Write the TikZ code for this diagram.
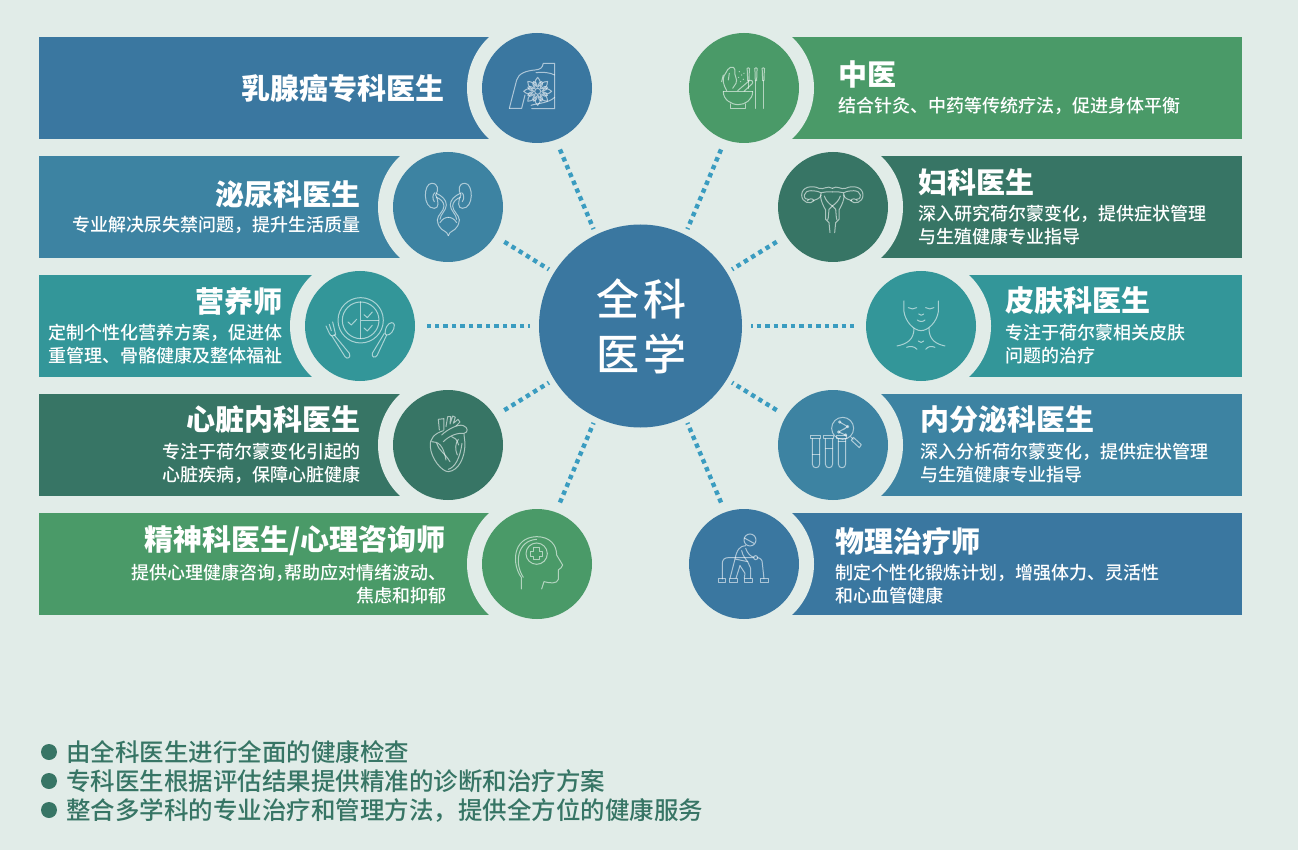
\documentclass[tikz,border=0pt]{standalone}
\usepackage{fontspec}
\setmainfont{Noto Sans CJK SC}
\newfontfamily\cjkmed{Noto Sans CJK SC Medium}
\newcommand{\fs}[2]{\fontsize{#1}{#2}\selectfont}
\definecolor{bgc}{HTML}{E1ECE8}
\definecolor{cblue}{HTML}{3A77A0}
\definecolor{cteal}{HTML}{3D83A2}
\definecolor{caqua}{HTML}{339699}
\definecolor{cdark}{HTML}{377565}
\definecolor{cgreen}{HTML}{4A9A68}
\definecolor{cspoke}{HTML}{3A9CC0}
\tikzset{
  x=1pt,y=-1pt,
  disc/.style={circle,inner sep=0pt,minimum size=110pt,draw=none},
  spoke/.style={draw=cspoke,line width=4.4pt,dash pattern=on 4.4pt off 4.1pt,dash phase=3pt},
  ttl/.style={text=white,inner sep=0pt,font=\fs{29}{34}\bfseries},
  subt/.style={text=white,inner sep=0pt,font=\cjkmed\fs{18}{23}},
  nb/.style={text=cdark,inner sep=0pt,anchor=west,font=\cjkmed\fs{24.5}{29}},
  dotb/.style={circle,fill=cdark,inner sep=0pt,minimum size=16pt},
  icon/.style={draw=white,draw opacity=.58,line width=1pt,line cap=round,line join=round,fill=none},
  zoomed/.style={shift={(#1)},x=.3333pt,y=-.3333pt},
}
% #1 name, #2 x-left, #3 x-right, #4 y-top, #5 cx, #6 cy, #7 colour
\newcommand{\barbox}[7]{%
  \path[fill=#7] (#2,#4) rectangle (#3,#4+102);
  \begin{scope}
    \clip (#2,#4) rectangle (#3,#4+102);
    \fill[bgc] (#5,#6) circle[radius=70pt];
  \end{scope}
}
\begin{document}
\begin{tikzpicture}
\useasboundingbox (0,0) rectangle (1298,850);
\fill[bgc] (0,0) rectangle (1298,850);
\barbox{b1}{39}{537}{37}{537}{88}{cblue}
\barbox{b2}{39}{448}{156}{448}{207}{cteal}
\barbox{b3}{39}{360}{275}{360}{326}{caqua}
\barbox{b4}{39}{448}{394}{448}{445}{cdark}
\barbox{b5}{39}{537}{513}{537}{564}{cgreen}
\barbox{b6}{744}{1242}{37}{744}{88}{cgreen}
\barbox{b7}{833}{1242}{156}{833}{207}{cdark}
\barbox{b8}{921}{1242}{275}{921}{326}{caqua}
\barbox{b9}{833}{1242}{394}{833}{445}{cteal}
\barbox{b10}{744}{1242}{513}{744}{564}{cblue}

\node[disc,fill=cblue] (L1) at (537,88) {};
\node[disc,fill=cteal] (L2) at (448,207) {};
\node[disc,fill=caqua] (L3) at (360,326) {};
\node[disc,fill=cdark] (L4) at (448,445) {};
\node[disc,fill=cgreen] (L5) at (537,564) {};
\node[disc,fill=cgreen] (R1) at (744,88) {};
\node[disc,fill=cdark] (R2) at (833,207) {};
\node[disc,fill=caqua] (R3) at (921,326) {};
\node[disc,fill=cteal] (R4) at (833,445) {};
\node[disc,fill=cblue] (R5) at (744,564) {};
\node[circle,inner sep=0pt,minimum size=203pt,fill=cblue,text=white,align=center,font=\cjkmed\fs{43}{55}] (hub) at (640.5,326) {\raisebox{1pt}{\kern1pt全\kern4pt科}\\\raisebox{1pt}{\kern1pt医\kern4pt学}};

\draw[spoke,shorten <=6pt,shorten >=9pt] (hub.116) -- (L1.-70);
\draw[spoke,shorten <=6pt,shorten >=9pt] (hub.64) -- (R1.-110);
\draw[spoke,shorten <=6pt,shorten >=9pt] (hub.244) -- (L5.70);
\draw[spoke,shorten <=6pt,shorten >=9pt] (hub.-64) -- (R5.110);
\foreach \t in {L2,L4,R2,R4}
  \draw[spoke,shorten <=6pt,shorten >=9pt] (hub) -- (\t);
\draw[spoke,shorten <=9pt,shorten >=12pt] (hub) -- (L3);
\draw[spoke,shorten <=9pt,shorten >=12pt] (hub) -- (R3);

% left texts
\node[ttl,anchor=east] (t1) at (445,88) {乳腺癌专科医生};
\node[ttl,anchor=east] (t2) at (361,194) {泌尿科医生};
\node[subt,anchor=east] (s2) at (361,225) {专业解决尿失禁问题，提升生活质量};
\node[ttl,anchor=east] (t3) at (283,301) {营养师};
\node[subt,anchor=east,align=right] (s3) at (283,344.5) {定制个性化营养方案，促进体\\重管理、骨骼健康及整体福祉};
\node[ttl,anchor=east] (t4) at (361,420) {心脏内科医生};
\node[subt,anchor=east,align=right] (s4) at (361,463.5) {专注于荷尔蒙变化引起的\\心脏疾病，保障心脏健康};
\node[ttl,anchor=east] (t5) at (446,541) {精神科医生/心理咨询师};
\node[subt,anchor=east,align=right] (s5) at (447,584.5) {提供心理健康咨询，\kern-9pt帮助应对情绪波动、\\焦虑和抑郁};
% right texts
\node[ttl,anchor=west] (t6) at (838,74) {中医};
\node[subt,anchor=west] (s6) at (838,105.5) {结合针灸、中药等传统疗法，促进身体平衡};
\node[ttl,anchor=west] (t7) at (918,182) {妇科医生};
\node[subt,anchor=west,align=left] (s7) at (918,225.5) {深入研究荷尔蒙变化，提供症状管理\\与生殖健康专业指导};
\node[ttl,anchor=west] (t8) at (1005,301) {皮肤科医生};
\node[subt,anchor=west,align=left] (s8) at (1005,344.5) {专注于荷尔蒙相关皮肤\\问题的治疗};
\node[ttl,anchor=west] (t9) at (920,420) {内分泌科医生};
\node[subt,anchor=west,align=left] (s9) at (920,463.5) {深入分析荷尔蒙变化，提供症状管理\\与生殖健康专业指导};
\node[ttl,anchor=west] (t10) at (835,541) {物理治疗师};
\node[subt,anchor=west,align=left] (s10) at (835,584.5) {制定个性化锻炼计划，增强体力、灵活性\\和心血管健康};

% bottom list
\node[dotb] (d1) at (49,752) {};
\node[dotb] (d2) at (49,781) {};
\node[dotb] (d3) at (49,810) {};
\node[nb] (n1) at (66,752) {由全科医生进行全面的健康检查};
\node[nb] (n2) at (66,781) {专科医生根据评估结果提供精准的诊断和治疗方案};
\node[nb] (n3) at (66,810) {整合多学科的专业治疗和管理方法，提供全方位的健康服务};

% ---- icons (coordinates are 3x crop coordinates) ----
% breast
\begin{scope}[zoomed={470,20}]
\draw[icon] (118,265) -- (140,180) .. controls (145,160) and (170,152) .. (195,150) .. controls (212,148) and (216,145) .. (220,130) -- (254,130) -- (254,266) -- (185,266);
\draw[icon] (118,265) -- (155,265) -- (165,225);
\draw[icon] (198,158) .. controls (220,155) and (240,158) .. (254,165);
\draw[icon] (183,256) .. controls (200,250) and (235,250) .. (254,232);
\foreach \a in {0,45,...,315}{
  \begin{scope}[shift={(203,214)},rotate=\a]
  \draw[icon] (12,0) .. controls (20,13) and (32,9) .. (42,0) .. controls (32,-9) and (20,-13) .. (12,0);
  \begin{scope}[rotate=22.5]
  \draw[icon] (16,-5) .. controls (24,-8) and (28,-4) .. (32,0) .. controls (28,4) and (24,8) .. (16,5);
  \end{scope}
  \end{scope}
}
\draw[icon] (203,214) circle[radius=9];
\end{scope}
% mortar + needles
\begin{scope}[zoomed={470,20}]
\draw[icon] (760,215) -- (848,215);
\draw[icon] (760,215) .. controls (760,240) and (785,254) .. (805,254) .. controls (825,254) and (848,240) .. (848,215);
\draw[icon] (783,252) -- (783,265) -- (828,265) -- (828,252);
\draw[icon] (803,212) -- (838,182) .. controls (845,178) and (852,186) .. (846,192) -- (822,214);
\draw[icon] (770,212) .. controls (762,195) and (752,180) .. (768,158) .. controls (772,145) and (790,132) .. (795,150) .. controls (790,165) and (805,178) .. (798,190) -- (788,205);
\draw[icon] (760,165) -- (755,185) (778,160) -- (775,180);
\foreach \p in {(808,155),(815,165),(806,172),(820,178),(812,185),(822,160)} \fill[white,fill opacity=.58] \p circle[radius=2];
\foreach \nx/\ny in {835/205,858/265,880/265}{
  \draw[icon] (\nx-3,153) .. controls (\nx-9,140) and (\nx+9,140) .. (\nx+3,153) -- (\nx+2,182) -- (\nx-2,182) -- cycle;
  \draw[icon] (\nx,182) -- (\nx,\ny);
}
\end{scope}
% kidneys
\begin{scope}[zoomed={290,140}]
\foreach \m in {1,-1}{
\begin{scope}[xshift=158.33pt,x=\m*.3333pt]
\draw[icon] (-38,165) .. controls (-28,150) and (-30,130) .. (-50,130) .. controls (-75,130) and (-78,205) .. (-42,205) .. controls (-28,205) and (-28,185) .. (-38,165);
\draw[icon] (-40,158) .. controls (-48,162) and (-48,178) .. (-42,185);
\draw[icon] (-36,160) .. controls (-18,168) and (-6,180) .. (-6,195) .. controls (-6,212) and (-24,222) .. (-25,238);
\draw[icon] (-36,172) .. controls (-24,176) and (-13,186) .. (-13,198) .. controls (-13,214) and (-33,225) .. (-33,240);
\draw[icon] (-33,240) .. controls (-30,270) and (-10,272) .. (-5,278) -- (0,287);
\draw[icon] (-25,248) .. controls (-18,236) and (-8,232) .. (0,232);
\end{scope}}
\end{scope}
% plate
\begin{scope}[zoomed={290,140}]
\draw[icon] (212,541) circle[radius=68];
\draw[icon] (212,541) circle[radius=55];
\draw[icon] (212,486) -- (212,596) (212,541) -- (266,541);
\draw[icon] (174,546) -- (184,555) -- (200,538);
\draw[icon] (222,524) -- (232,533) -- (247,516);
\draw[icon] (222,564) -- (232,573) -- (247,556);
\draw[icon] (108,558) -- (118,580) .. controls (122,590) and (132,590) .. (137,584) -- (128,546);
\draw[icon] (118,553) -- (124,572);
\draw[icon] (132,584) -- (178,640) .. controls (184,652) and (172,660) .. (165,650) -- (125,587);
\draw[icon] (313,555) .. controls (312,545) and (298,545) .. (290,560) .. controls (284,572) and (284,585) .. (290,585) .. controls (300,588) and (314,570) .. (313,555) -- cycle;
\draw[icon] (290,585) -- (262,645) .. controls (256,656) and (244,652) .. (247,640) -- (283,580);
\end{scope}
% uterus
\begin{scope}[zoomed={760,140}]
\foreach \m in {1,-1}{
\begin{scope}[xshift=72.33pt,x=\m*.3333pt]
\draw[icon] (0,145) .. controls (-15,135) and (-25,150) .. (-40,145) .. controls (-60,135) and (-92,140) .. (-92,165) .. controls (-92,188) and (-65,195) .. (-55,182) .. controls (-60,172) and (-72,178) .. (-75,182);
\draw[icon] (-35,158) .. controls (-50,150) and (-82,148) .. (-84,165) .. controls (-85,175) and (-78,180) .. (-72,178);
\draw[icon] (0,156) .. controls (-15,156) and (-25,155) .. (-33,158) .. controls (-40,165) and (-32,190) .. (-20,210) -- (-20,238) -- (-10,248) -- (-7,278);
\draw[icon] (-58,182) .. controls (-48,178) and (-40,178) .. (-33,165);
\draw[icon] (0,198) .. controls (-12,190) and (-20,180) .. (-24,168);
\draw[icon] (0,198) -- (-10,208) -- (-12,232) -- (-14,240);
\end{scope}}
\end{scope}
% face
\begin{scope}[zoomed={760,140}]
\draw[icon] (432,483) -- (432,515) .. controls (436,545) and (462,572) .. (483,572) .. controls (505,572) and (531,545) .. (535,515) -- (535,483);
\draw[icon] (445,503) .. controls (452,508) and (463,508) .. (470,503);
\draw[icon] (497,503) .. controls (504,508) and (515,508) .. (522,503);
\draw[icon] (476,522) .. controls (480,527) and (488,527) .. (491,522);
\draw[icon] (472,540) .. controls (478,546) and (490,546) .. (495,540);
\draw[icon] (462,565) .. controls (462,600) and (440,612) .. (411,618);
\draw[icon] (507,565) .. controls (507,600) and (528,612) .. (555,618);
\draw[icon] (475,603) .. controls (480,609) and (487,609) .. (491,603);
\draw[icon] (440,622) .. controls (450,618) and (462,618) .. (471,628);
\draw[icon] (497,628) .. controls (505,618) and (515,618) .. (525,622);
\end{scope}
% heart
\begin{scope}[zoomed={380,380}]
\draw[icon] (190,152) .. controls (165,160) and (148,175) .. (151,200) .. controls (153,235) and (185,275) .. (205,275) .. controls (235,272) and (255,235) .. (255,190) -- (252,163);
\draw[icon] (175,118) -- (192,116) -- (192,150) (175,118) -- (178,150);
\draw[icon] (198,140) -- (203,110) -- (212,110) -- (210,132) -- (218,108) -- (226,112) -- (220,130) -- (234,118) -- (240,126) -- (228,138);
\draw[icon] (185,165) .. controls (200,150) and (235,130) .. (250,137) .. controls (265,142) and (265,158) .. (252,160) .. controls (235,158) and (210,165) .. (190,185);
\draw[icon] (155,185) .. controls (175,185) and (190,195) .. (198,240);
\draw[icon] (170,190) .. controls (175,210) and (195,220) .. (210,245);
\draw[icon] (235,178) .. controls (225,190) and (225,210) .. (232,225);
\draw[icon] (215,170) .. controls (225,172) and (230,178) .. (236,195);
\draw[icon] (205,268) .. controls (225,262) and (240,235) .. (246,190);
\end{scope}
% head
\begin{scope}[zoomed={380,380}]
\draw[icon] (424,627) -- (424,592) .. controls (396,555) and (395,472) .. (470,470) .. controls (510,470) and (530,495) .. (530,525) -- (548,555) .. controls (548,562) and (540,565) .. (535,570) -- (535,598) .. controls (532,612) and (510,610) .. (492,605) -- (485,627);
\draw[icon] (430,592) .. controls (403,552) and (410,482) .. (470,478);
\draw[icon] (470,521) circle[radius=32];
\draw[icon] (462,504) -- (478,504) -- (478,514) -- (487,514) -- (487,529) -- (478,529) -- (478,538) -- (462,538) -- (462,529) -- (453,529) -- (453,514) -- (462,514) -- cycle;
\end{scope}
% test tubes
\begin{scope}[zoomed={680,380}]
\foreach \c/\l in {408/225,447/205,486/185}{
  \draw[icon] (\c-15,166) rectangle (\c+15,176);
  \draw[icon] (\c-11,176) -- (\c-11,252) .. controls (\c-11,267) and (\c+11,267) .. (\c+11,252) -- (\c+11,176);
  \draw[icon] (\c-11,\l) -- (\c+11,\l);
}
\draw[icon] (488,145) circle[radius=33];
\draw[icon] (512,170) -- (520,178);
\draw[icon] (520,172) -- (544,194) -- (538,203) -- (514,181) -- cycle;
\draw[icon] (479,126) -- (503,140) -- (476,156) -- (497,165) (490,149) -- (503,140);
\foreach \p in {(479,126),(503,140),(476,156),(497,165)} \draw[icon] \p circle[radius=3.5];
\end{scope}
% walker
\begin{scope}[zoomed={680,380}]
\draw[icon] (210,480) circle[radius=18];
\draw[icon] (193,474) -- (222,490);
\draw[icon] (127,597) -- (127,550) .. controls (127,538) and (135,533) .. (145,533) -- (220,533);
\draw[icon] (232,533) .. controls (242,534) and (247,540) .. (247,550) -- (252,597);
\draw[icon] (115,597) rectangle (137,607);
\draw[icon] (242,597) rectangle (264,607);
\draw[icon] (148,595) rectangle (172,607);
\draw[icon] (192,595) rectangle (218,607);
\draw[icon] (197,497) .. controls (180,497) and (170,510) .. (165,537) -- (150,595);
\draw[icon] (197,505) .. controls (202,520) and (212,530) .. (222,532);
\draw[icon] (185,512) .. controls (188,528) and (198,538) .. (203,545);
\draw[icon] (227,533) circle[radius=6];
\draw[icon] (165,537) -- (203,545) -- (212,565) -- (212,595);
\draw[icon] (180,557) -- (195,580) -- (193,595);
\draw[icon] (180,557) -- (168,595);
\end{scope}
\end{tikzpicture}
\end{document}
